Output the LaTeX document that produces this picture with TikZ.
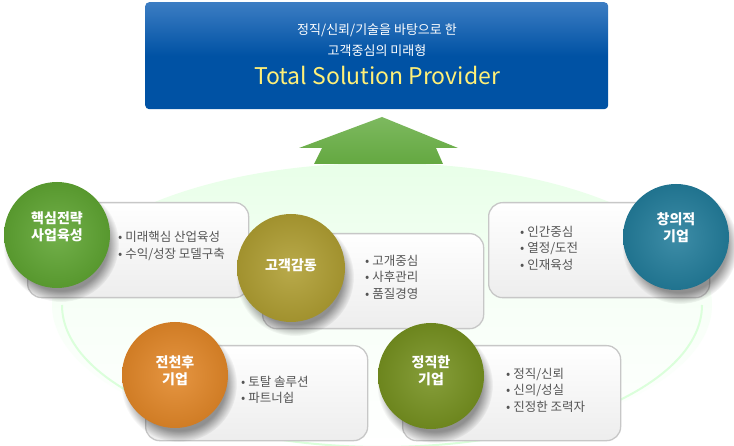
\documentclass[tikz,border=0pt]{standalone}
\usepackage{fontspec}
\setmainfont{Noto Sans CJK KR}
\usetikzlibrary{fadings}
\definecolor{topblue}{RGB}{0,82,164}
\definecolor{topblueL}{RGB}{60,125,195}
\definecolor{tsp}{RGB}{255,240,120}
\definecolor{cG}{RGB}{95,165,50}
\definecolor{cO}{RGB}{175,158,50}
\definecolor{cT}{RGB}{35,125,155}
\definecolor{cR}{RGB}{226,135,40}
\definecolor{cV}{RGB}{118,145,32}
\definecolor{arrowL}{RGB}{125,185,95}
\definecolor{arrowD}{RGB}{100,168,65}
\definecolor{txtgray}{RGB}{85,85,85}
\tikzset{
  card/.style={draw=black!22, line width=1.3pt, rounded corners=14pt,
    top color=white, bottom color=black!7, anchor=north west,
    minimum width=221pt, minimum height=95pt, inner sep=0pt},
  ballnode/.style={circle, inner sep=0pt, minimum size=106pt, draw=none},
  balltext/.style={text=white, font=\fontsize{14}{17}\selectfont\bfseries, align=center},
  bullets/.style={text=txtgray, font=\fontsize{12.5}{16.5}\selectfont, align=left, anchor=west, inner sep=0pt},
}
\newcommand{\ballshadow}[3]{%
  \fill[black, opacity=0.4, path fading=circle with fuzzy edge 20 percent]
    (#1+4,#2+9) circle [radius=#3+5];}
\begin{document}
\begin{tikzpicture}[x=1pt,y=-1pt]
\useasboundingbox (0,0) rectangle (734,446);
\fill[white] (0,0) rectangle (734,446);
% background glow
\shade[top color=green!9!white, bottom color=white, middle color=green!3!white] (382,305) ellipse [x radius=330, y radius=142];
\draw[green!14!white, line width=2pt] (62,305) arc[start angle=180, end angle=0, x radius=320, y radius=142];
% top box
\node[draw=none, rounded corners=4pt, top color=topblueL, bottom color=topblue, middle color=topblue,
  minimum width=463pt, minimum height=107pt, anchor=north west, inner sep=0pt] (top) at (145,2) {};
\node[text=white, font=\fontsize{13}{16}\selectfont] (l1) at (377,30) {정직/신뢰/기술을 바탕으로 한};
\node[text=white, font=\fontsize{13}{16}\selectfont] (l2) at (377,51) {고객중심의 미래형};
\node[text=tsp, font=\fontsize{23}{26}\selectfont] (l3) at (377,75) {Total Solution Provider};
% arrow
\coordinate (atip) at (382,117);
\shade[top color=arrowL, bottom color=arrowD]
  (atip) -- (458,148) -- (436,148) -- (443,164) -- (314,164) -- (322,148) -- (299,148) -- cycle;
% cards
\node[card] (c1) at (27,202) {};
\node[card] (c3) at (488,202) {};
\node[card] (c2) at (262,233) {};
\node[card, minimum width=222pt] (c4) at (145,345) {};
\node[card, minimum width=218pt] (c5) at (402,345) {};
% ball 1
\ballshadow{57}{235}{53}
\node[ballnode, inner color=cG!88!white, outer color=cG!92!black] (b1) at (57,235) {};
\node[balltext] (t1) at (57,227) {핵심전략\\사업육성};
\node[bullets] (u1) at (118,246) {• 미래핵심 산업육성\\• 수익/성장 모델구축};
% ball 3
\ballshadow{676}{237}{53}
\node[ballnode, inner color=cT!88!white, outer color=cT!92!black] (b3) at (676,237) {};
\node[balltext] (t3) at (676,228) {창의적\\기업};
\node[bullets] (u3) at (520,248) {• 인간중심\\• 열정/도전\\• 인재육성};
% ball 2
\ballshadow{291}{268}{54}
\node[ballnode, minimum size=108pt, inner color=cO!88!white, outer color=cO!92!black] (b2) at (291,268) {};
\node[balltext] (t2) at (291,265) {고객감동};
\node[bullets] (u2) at (365,277) {• 고개중심\\• 사후관리\\• 품질경영};
% ball 4
\ballshadow{175}{375}{53}
\node[ballnode, inner color=cR!88!white, outer color=cR!92!black] (b4) at (175,375) {};
\node[balltext] (t4) at (175,371) {전천후\\기업};
\node[bullets] (u4) at (241,390) {• 토탈 솔루션\\• 파트너쉽};
% ball 5
\ballshadow{431}{376}{53}
\node[ballnode, inner color=cV!88!white, outer color=cV!92!black] (b5) at (431,376) {};
\node[balltext] (t5) at (431,371) {정직한\\기업};
\node[bullets] (u5) at (506,390) {• 정직/신뢰\\• 신의/성실\\• 진정한 조력자};
\end{tikzpicture}
\end{document}
